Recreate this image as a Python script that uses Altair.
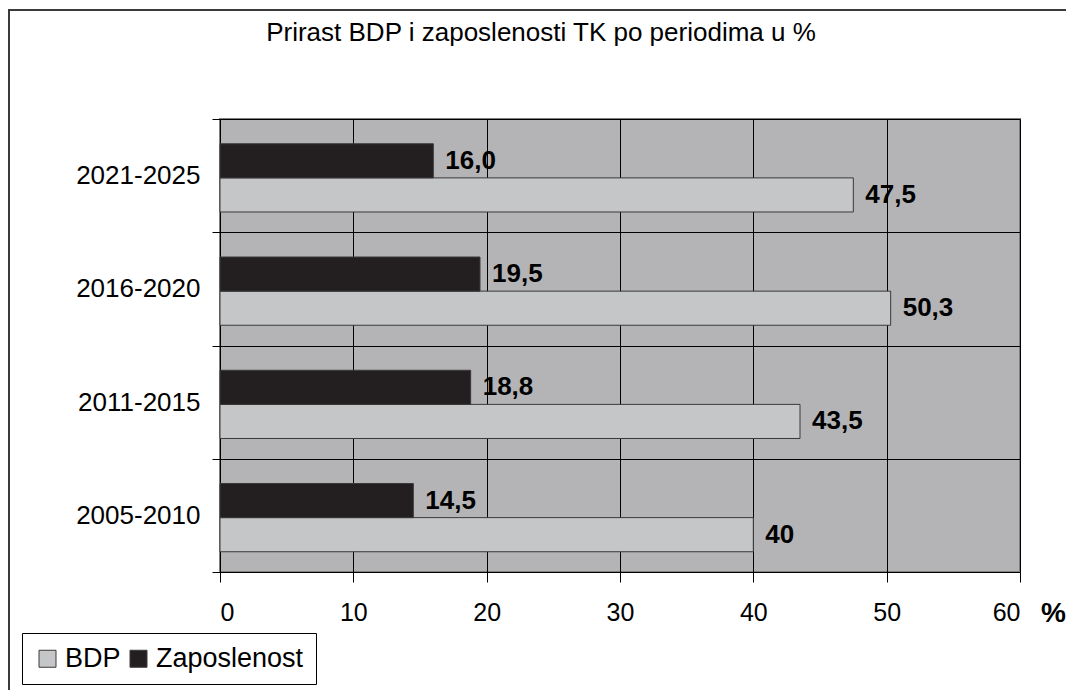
import altair as alt
import pandas as pd

# ---- data ----
periods = ["2021-2025", "2016-2020", "2011-2015", "2005-2010"]
bdp = [47.5, 50.3, 43.5, 40.0]
bdp_labels = ["47,5", "50,3", "43,5", "40"]
zaposlenost = [16.0, 19.5, 18.8, 14.5]
zap_labels = ["16,0", "19,5", "18,8", "14,5"]
series = ["BDP", "Zaposlenost"]
x_ticks = [0, 10, 20, 30, 40, 50, 60]
title_text = "Prirast BDP i zaposlenosti TK po periodima u %"

rows = []
for p, v, l in zip(periods, bdp, bdp_labels):
    rows.append({"period": p, "serija": "BDP", "value": v, "label": l})
for p, v, l in zip(periods, zaposlenost, zap_labels):
    rows.append({"period": p, "serija": "Zaposlenost", "value": v, "label": l})
df = pd.DataFrame(rows)

FONT = "Liberation Sans"
offset_order = ["Zaposlenost", "BDP"]

y_enc = alt.Y(
    "period:N",
    sort=periods,
    title=None,
    scale=alt.Scale(paddingInner=0, paddingOuter=0),
    axis=alt.Axis(
        tickBand="extent",
        grid=True,
        gridColor="black",
        gridWidth=1,
        domainColor="black",
        domainWidth=1,
        tickColor="black",
        tickSize=8,
        labelPadding=12,
        labelFontSize=26,
        labelFont=FONT,
        labelColor="black",
    ),
)
yoff_enc = alt.YOffset(
    "serija:N",
    sort=offset_order,
    scale=alt.Scale(paddingInner=0, paddingOuter=0.66, align=0.55),
)
x_enc = alt.X(
    "value:Q",
    scale=alt.Scale(domain=[0, 60], nice=False),
    axis=alt.Axis(
        values=x_ticks,
        grid=True,
        gridColor="black",
        gridWidth=1,
        domainColor="black",
        domainWidth=1,
        tickColor="black",
        tickSize=10,
        labelPadding=18,
        labelFontSize=25,
        labelFont=FONT,
        labelColor="black",
        title="%",
        titleFont=FONT,
        titleFontSize=28,
        titleFontWeight="bold",
        titleColor="black",
        titleX=833,
        titleY=41,
        titleAlign="center",
        titleBaseline="middle",
        titleAngle=0,
    ),
)

bars = alt.Chart(df).mark_bar(stroke="#3a3a3a", strokeWidth=1).encode(
    x=x_enc,
    y=y_enc,
    yOffset=yoff_enc,
    color=alt.Color(
        "serija:N",
        scale=alt.Scale(domain=series, range=["#c5c6c8", "#231f20"]),
        legend=alt.Legend(
            title=None,
            orient="none",
            legendX=-198,
            legendY=514,
            direction="horizontal",
            strokeColor="black",
            fillColor="white",
            padding=12,
            symbolType="square",
            symbolSize=289,
            symbolStrokeColor="#3a3a3a",
            symbolStrokeWidth=1,
            labelFontSize=27,
            labelFont=FONT,
            labelColor="black",
            labelOffset=4,
            columnPadding=4,
        ),
    ),
)

labels = alt.Chart(df).mark_text(
    align="left",
    baseline="middle",
    dx=12,
    fontSize=26,
    fontWeight="bold",
    font=FONT,
    color="black",
).encode(
    x=alt.X("value:Q"),
    y=alt.Y("period:N", sort=periods),
    yOffset=alt.YOffset("serija:N", sort=offset_order),
    text="label:N",
)

frame = alt.Chart(pd.DataFrame({"f": [0]})).mark_rect(
    fillOpacity=0, stroke="#3a3a3a", strokeWidth=2
).encode(
    x=alt.value(-211),
    x2=alt.value(900),
    y=alt.value(-109),
    y2=alt.value(800),
)

title = alt.Chart(pd.DataFrame({"t": [title_text]})).mark_text(
    align="center",
    baseline="middle",
    font=FONT,
    fontSize=26,
    color="black",
).encode(
    x=alt.value(321),
    y=alt.value(-86),
    text="t:N",
)

chart = (
    alt.layer(bars, labels, frame, title)
    .properties(
        width=800,
        height=453,
        autosize="none",
        padding={"left": 212, "top": 111, "right": 46, "bottom": 118},
        background="white",
    )
    .configure_view(fill="#b4b4b6", stroke="#808080", strokeWidth=2)
)

chart.save("out.html", embed_options={"renderer": "svg", "actions": False})
